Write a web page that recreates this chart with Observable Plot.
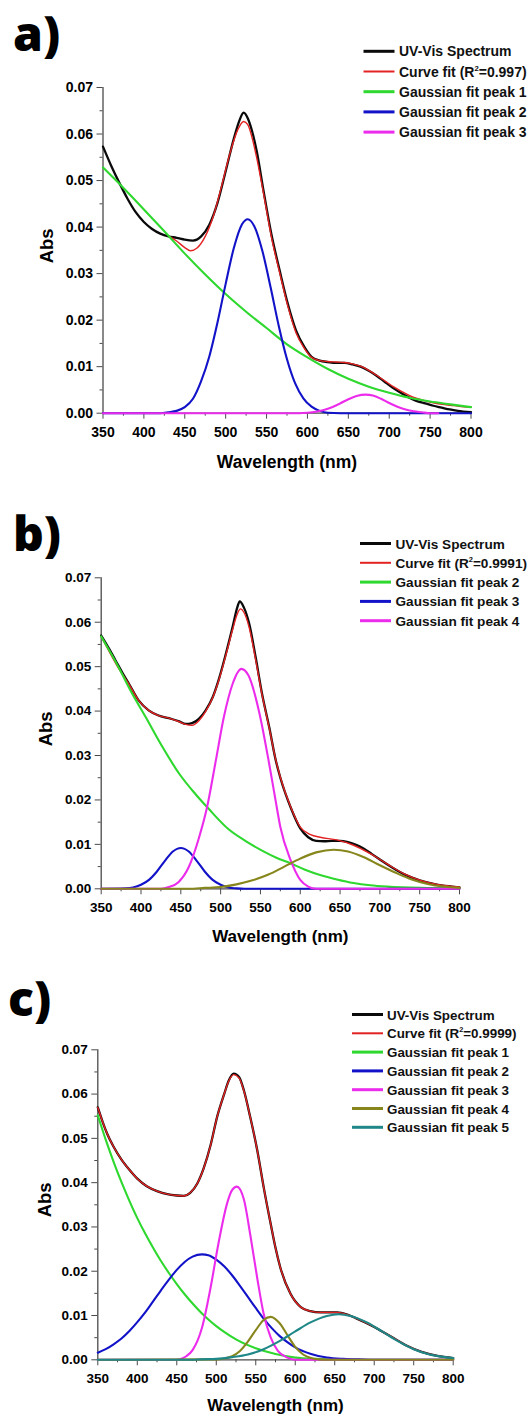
<!DOCTYPE html>
<html><head><meta charset="utf-8">
<script src="https://cdn.jsdelivr.net/npm/d3@7"></script>
<script src="https://cdn.jsdelivr.net/npm/@observablehq/plot@0.6"></script>
<style>
html,body{margin:0;padding:0;background:#fff;overflow:hidden;}
#page{position:relative;width:529px;height:1418px;}
.panel{position:absolute;left:0;}
#overlay{position:absolute;left:0;top:0;pointer-events:none;}
</style></head><body><div id="page"></div><script>
// ---------- axis ticks ----------
const xTicks = [350, 400, 450, 500, 550, 600, 650, 700, 750, 800];
const xMinorTicks = [375, 425, 475, 525, 575, 625, 675, 725, 775];
const yTicks = [0, 0.01, 0.02, 0.03, 0.04, 0.05, 0.06, 0.07];
const yMinorTicks = [0.005, 0.015, 0.025, 0.035, 0.045, 0.055, 0.065];

// ---------- panel a) [wavelength nm, Abs] ----------
const aSpectrum = [[350,.0573],[360,.0532],[370,.0495],[380,.0461],[390,.0432],[400,.0411],[410,.0396],[420,.0386],[430,.0380],[440,.0377],[450,.0373],[460,.0371],[470,.0380],[480,.0405],[490,.0452],[500,.0520],[510,.0590],[516,.0625],[522,.0646],[527,.0634],[532,.0608],[538,.0563],[546,.0481],[556,.0384],[566,.0307],[576,.0235],[586,.0178],[596,.0143],[605,.0121],[615,.0113],[625,.0110],[635,.0108],[645,.0108],[655,.0105],[665,.0100],[675,.0091],[685,.0080],[694,.0068],[704,.0055],[714,.0044],[724,.0034],[734,.0026],[744,.0021],[754,.0016],[764,.0012],[774,.0008],[784,.0005],[800,.0002]];
const aFit = [[430,.0381],[440,.0370],[450,.0356],[457,.0349],[465,.0355],[475,.0380],[485,.0424],[495,.0488],[505,.0557],[515,.0610],[522,.0627],[527,.0620],[537,.0557],[546,.0475],[556,.0378],[566,.0302],[576,.0230],[586,.0173],[596,.0140],[605,.0120],[615,.0113],[625,.0111],[635,.0110],[645,.0109],[655,.0106],[665,.0101],[675,.0092],[685,.0081],[695,.0069],[705,.0057],[715,.0047],[725,.0038],[735,.0031],[745,.0026],[755,.0022],[765,.0019],[775,.0017],[785,.0015],[800,.0013]];
const aPeak1 = [[350,.0528],[375,.0484],[400,.0438],[425,.0391],[450,.0343],[475,.0298],[500,.0256],[525,.0218],[550,.0183],[575,.0148],[600,.0120],[625,.0095],[650,.0074],[675,.0057],[700,.0044],[725,.0033],[750,.0025],[775,.0019],[800,.0013]];
const aPeak2 = [[350,0],[420,0],[430,.0002],[440,.0005],[450,.0013],[460,.0031],[470,.0069],[480,.0122],[490,.0195],[500,.0278],[510,.0355],[520,.0406],[527,.0417],[535,.0402],[545,.0348],[555,.0270],[565,.0187],[575,.0116],[585,.0064],[595,.0032],[605,.0014],[615,.0005],[625,.0001],[640,0],[800,0]];
const aPeak3 = [[350,0],[590,0],[600,.0001],[610,.0003],[620,.0007],[630,.0013],[640,.0021],[650,.0030],[660,.0037],[671,.0040],[680,.0038],[690,.0031],[700,.0022],[710,.0014],[720,.0008],[730,.0004],[740,.0002],[750,0],[760,0]];

// ---------- panel b) ----------
const bSpectrum = [[350,.0570],[360,.0540],[368,.0514],[377,.0485],[385,.0461],[397,.0424],[410,.0401],[422,.0390],[435,.0384],[448,.0377],[456,.0371],[464,.0373],[473,.0383],[481,.0401],[490,.0431],[498,.0473],[506,.0525],[515,.0589],[521,.0634],[524,.0647],[529,.0634],[536,.0596],[544,.0521],[552,.0439],[561,.0364],[569,.0291],[575,.0250],[588,.0183],[600,.0136],[610,.0116],[620,.0108],[630,.0107],[640,.0108],[650,.0108],[660,.0105],[670,.0099],[680,.0090],[690,.0078],[700,.0066],[710,.0054],[730,.0033],[750,.0019],[770,.0010],[790,.0005],[800,.0003]];
const bFit = [[350,.0568],[370,.0502],[385,.0460],[397,.0424],[410,.0401],[422,.0390],[435,.0384],[448,.0376],[456,.0370],[464,.0368],[473,.0379],[481,.0399],[490,.0430],[498,.0471],[506,.0522],[515,.0583],[521,.0619],[525,.0630],[529,.0623],[536,.0587],[544,.0515],[552,.0437],[561,.0362],[569,.0292],[575,.0251],[588,.0184],[600,.0139],[613,.0122],[625,.0116],[646,.0110],[667,.0098],[688,.0079],[709,.0056],[730,.0034],[751,.0019],[772,.0010],[800,.0004]];
const bPeak2 = [[350,.0568],[370,.0505],[389,.0439],[406,.0386],[427,.0319],[448,.0259],[468,.0214],[485,.0180],[510,.0134],[531,.0108],[552,.0086],[570,.0070],[588,.0057],[606,.0043],[625,.0031],[646,.0021],[667,.0013],[688,.0008],[709,.0005],[751,.0002],[800,.0001]];
const bPeak3 = [[350,0],[380,.0001],[390,.0003],[400,.0009],[410,.0020],[420,.0039],[430,.0063],[440,.0084],[450,.0092],[460,.0084],[470,.0063],[480,.0039],[490,.0020],[500,.0009],[510,.0003],[520,.0001],[530,0],[800,0]];
const bPeak4 = [[350,0],[425,0],[435,.0004],[447,.0015],[460,.0049],[473,.0116],[483,.0184],[494,.0289],[504,.0386],[515,.0461],[526,.0495],[535,.0480],[548,.0401],[561,.0281],[569,.0199],[575,.0139],[588,.0064],[600,.0020],[610,.0005],[620,0],[800,0]];
const bPeak5 = [[350,0],[460,0],[480,.0002],[500,.0004],[520,.0010],[540,.0019],[560,.0032],[580,.0050],[600,.0068],[620,.0082],[642,.0088],[660,.0084],[680,.0071],[700,.0053],[720,.0036],[740,.0021],[760,.0011],[780,.0005],[800,.0002]];

// ---------- panel c) ----------
const cSpectrum = [[350,.0570],[356,.0538],[362,.0510],[370,.0481],[380,.0452],[390,.0429],[400,.0409],[412,.0392],[425,.0381],[438,.0374],[450,.0371],[459,.0370],[467,.0377],[476,.0398],[484,.0432],[493,.0486],[501,.0548],[510,.0600],[516,.0631],[522,.0646],[529,.0638],[535,.0608],[543,.0548],[552,.0472],[560,.0390],[569,.0306],[575,.0253],[581,.0209],[594,.0149],[607,.0119],[619,.0110],[632,.0107],[653,.0107],[666,.0102],[678,.0093],[697,.0077],[710,.0064],[720,.0054],[740,.0033],[760,.0018],[780,.0009],[800,.0004]];
const cFit = [[350,.0570],[356,.0538],[362,.0510],[370,.0481],[380,.0452],[390,.0429],[400,.0409],[412,.0392],[425,.0381],[438,.0374],[450,.0371],[459,.0370],[467,.0377],[476,.0398],[484,.0432],[493,.0486],[501,.0548],[510,.0600],[516,.0630],[522,.0644],[529,.0636],[535,.0607],[543,.0548],[552,.0472],[560,.0390],[569,.0306],[575,.0253],[581,.0209],[594,.0149],[607,.0119],[619,.0110],[632,.0107],[653,.0107],[666,.0102],[678,.0093],[697,.0077],[710,.0064],[720,.0054],[740,.0033],[760,.0018],[780,.0009],[800,.0004]];
const cPeak1 = [[350,.0552],[360,.0497],[370,.0447],[380,.0401],[390,.0359],[400,.0320],[410,.0285],[420,.0253],[430,.0223],[440,.0196],[450,.0171],[460,.0148],[470,.0127],[480,.0108],[490,.0091],[500,.0076],[510,.0063],[525,.0046],[550,.0026],[575,.0013],[600,.0005],[625,.0002],[650,.0001],[700,0],[800,0]];
const cPeak2 = [[350,.0016],[360,.0024],[370,.0035],[380,.0048],[390,.0065],[400,.0085],[410,.0107],[420,.0132],[430,.0157],[440,.0181],[450,.0203],[460,.0221],[470,.0233],[482,.0238],[490,.0236],[500,.0226],[510,.0211],[520,.0191],[530,.0167],[540,.0142],[550,.0117],[560,.0093],[570,.0072],[580,.0054],[590,.0040],[600,.0028],[620,.0013],[640,.0005],[660,.0002],[680,.0001],[700,0],[800,0]];
const cPeak3 = [[350,0],[445,0],[455,.0002],[462,.0008],[470,.0022],[482,.0073],[493,.0165],[503,.0265],[514,.0355],[520,.0383],[526,.0391],[535,.0362],[543,.0283],[552,.0183],[560,.0104],[569,.0050],[578,.0020],[590,.0005],[600,0],[800,0]];
const cPeak4 = [[350,0],[500,.0001],[510,.0003],[520,.0008],[530,.0020],[540,.0041],[550,.0067],[560,.0090],[569,.0097],[580,.0083],[590,.0056],[600,.0029],[610,.0012],[620,.0004],[630,.0001],[640,0],[800,0]];
const cPeak5 = [[350,0],[470,0],[480,.0001],[500,.0002],[520,.0006],[540,.0012],[560,.0024],[580,.0042],[600,.0064],[620,.0085],[640,.0099],[655,.0103],[670,.0099],[690,.0085],[710,.0064],[730,.0042],[750,.0024],[770,.0012],[790,.0006],[800,.0004]];

// ---------- legend labels ----------
const aLegend = ["UV-Vis Spectrum", "Curve fit (R|2|=0.997)", "Gaussian fit peak 1", "Gaussian fit peak 2", "Gaussian fit peak 3"];
const bLegend = ["UV-Vis Spectrum", "Curve fit (R|2|=0.9991)", "Gaussian fit peak 2", "Gaussian fit peak 3", "Gaussian fit peak 4"];
const cLegend = ["UV-Vis Spectrum", "Curve fit (R|2|=0.9999)", "Gaussian fit peak 1", "Gaussian fit peak 2", "Gaussian fit peak 3", "Gaussian fit peak 4", "Gaussian fit peak 5"];
const panelLetters = ["a)", "b)", "c)"];

// ---------- styles ----------
const C = {black:"#0a0a0a", red:"#e32222", green:"#2ed82e", blue:"#1212c8", magenta:"#ec2cec", olive:"#87861c", teal:"#1f8787"};
const AXIS = "#4a4a4a";
const FONT = "'Liberation Sans', Arial, Helvetica, sans-serif";

const panels = [
  {top:0, height:470, mt:87, mb:57.3, ml:102.5, mr:58.5, tickFont:14, wlFont:17.5, absDx:-55.5, absDy:13, wlDy:49,
   series:[[aSpectrum,C.black,2.3],[aFit,C.red,1.4],[aPeak1,C.green,2.1],[aPeak2,C.blue,2.1],[aPeak3,C.magenta,2.1]],
   letter:{x:13, y:51}, legend:{labels:aLegend, colors:[C.black,C.red,C.green,C.blue,C.magenta], x1:363.5, x2:394.5, tx:399, y0:51.3, dy:20.2, fs:14}},
  {top:470, height:480, mt:107.3, mb:61.7, ml:100.7, mr:70, tickFont:13.5, wlFont:17, absDx:-55, absDy:13, wlDy:48,
   series:[[bSpectrum,C.black,2.3],[bFit,C.red,1.4],[bPeak2,C.green,2.1],[bPeak3,C.blue,2.1],[bPeak4,C.magenta,2.1],[bPeak5,C.olive,2.1]],
   letter:{x:13, y:551}, legend:{labels:bLegend, colors:[C.black,C.red,C.green,C.blue,C.magenta], x1:360, x2:391, tx:395.5, y0:543.5, dy:19.3, fs:13.6}},
  {top:950, height:468, mt:99.3, mb:58.7, ml:97.3, mr:76.3, tickFont:13.5, wlFont:17, absDx:-53, absDy:12.5, wlDy:46,
   series:[[cSpectrum,C.black,2.3],[cFit,C.red,1.4],[cPeak1,C.green,2.1],[cPeak2,C.blue,2.1],[cPeak3,C.magenta,2.1],[cPeak4,C.olive,2.1],[cPeak5,C.teal,2.1]],
   letter:{x:8, y:1016}, legend:{labels:cLegend, colors:[C.black,C.red,C.green,C.blue,C.magenta,C.olive,C.teal], x1:352, x2:383, tx:387, y0:1014.5, dy:18.8, fs:13.4}}
];

const page = document.getElementById("page");

for (const p of panels) {
  const marks = [
    Plot.axisX(xMinorTicks, {tickSize:3, tickFormat:() => "", stroke:AXIS, label:null}),
    Plot.axisX(xTicks, {tickSize:6, tickPadding:8, tickFormat:d => String(d), stroke:AXIS, fill:"#000", label:null, fontSize:p.tickFont, fontWeight:"bold"}),
    Plot.axisY(yMinorTicks, {tickSize:3, tickFormat:() => "", stroke:AXIS, label:null}),
    Plot.axisY(yTicks, {tickSize:6, tickPadding:4, tickFormat:d3.format(".2f"), stroke:AXIS, fill:"#000", label:null, fontSize:p.tickFont, fontWeight:"bold"}),
    Plot.ruleY([0], {stroke:AXIS, strokeWidth:1.3}),
    Plot.ruleX([350], {stroke:AXIS, strokeWidth:1.3}),
    ...p.series.map(([data, color, w]) => Plot.line(data, {x:d => d[0], y:d => d[1], stroke:color, strokeWidth:w, curve:"monotone-x", strokeLinejoin:"round", strokeLinecap:"round"})),
    Plot.text(["Abs"], {text:d => d, frameAnchor:"left", rotate:-90, dx:p.absDx, dy:p.absDy, fontSize:18.5, fontWeight:"bold", fill:"#000"}),
    Plot.text(["Wavelength (nm)"], {text:d => d, frameAnchor:"bottom", lineAnchor:"middle", dy:p.wlDy, fontSize:p.wlFont, fontWeight:"bold", fill:"#000"})
  ];
  const svg = Plot.plot({
    width:529, height:p.height,
    marginTop:p.mt, marginBottom:p.mb, marginLeft:p.ml, marginRight:p.mr,
    x:{domain:[350, 800]}, y:{domain:[0, 0.07]},
    style:{fontFamily:FONT, fontSize:"14px", fontWeight:"bold", color:"#000", background:"transparent", overflow:"visible"},
    marks
  });
  svg.classList.add("panel");
  svg.style.top = p.top + "px";
  page.appendChild(svg);
}

// ---------- overlay: panel letters and legends ----------
const ov = d3.create("svg").attr("id", "overlay").attr("width", 529).attr("height", 1418);
panels.forEach((p, i) => {
  ov.append("text").attr("x", p.letter.x).attr("y", p.letter.y)
    .attr("font-family", "'Open Sans', 'DejaVu Sans', sans-serif").attr("font-weight", 800)
    .attr("font-size", 48).attr("fill", "#000").text(panelLetters[i]);
  const L = p.legend;
  L.labels.forEach((lab, j) => {
    const y = L.y0 + j * L.dy;
    ov.append("line").attr("x1", L.x1).attr("x2", L.x2).attr("y1", y).attr("y2", y)
      .attr("stroke", L.colors[j]).attr("stroke-width", j === 1 ? 2 : 3);
    const t = ov.append("text").attr("x", L.tx).attr("y", y + 5)
      .attr("font-family", FONT).attr("font-weight", "bold").attr("font-size", L.fs).attr("fill", "#111");
    const parts = lab.split("|");
    if (parts.length === 3) {
      t.append("tspan").text(parts[0]);
      t.append("tspan").attr("font-size", L.fs * 0.55).attr("dy", -6).text(parts[1]);
      t.append("tspan").attr("dy", 6).text(parts[2]);
    } else {
      t.text(lab);
    }
  });
});
page.appendChild(ov.node());
</script></body></html>
